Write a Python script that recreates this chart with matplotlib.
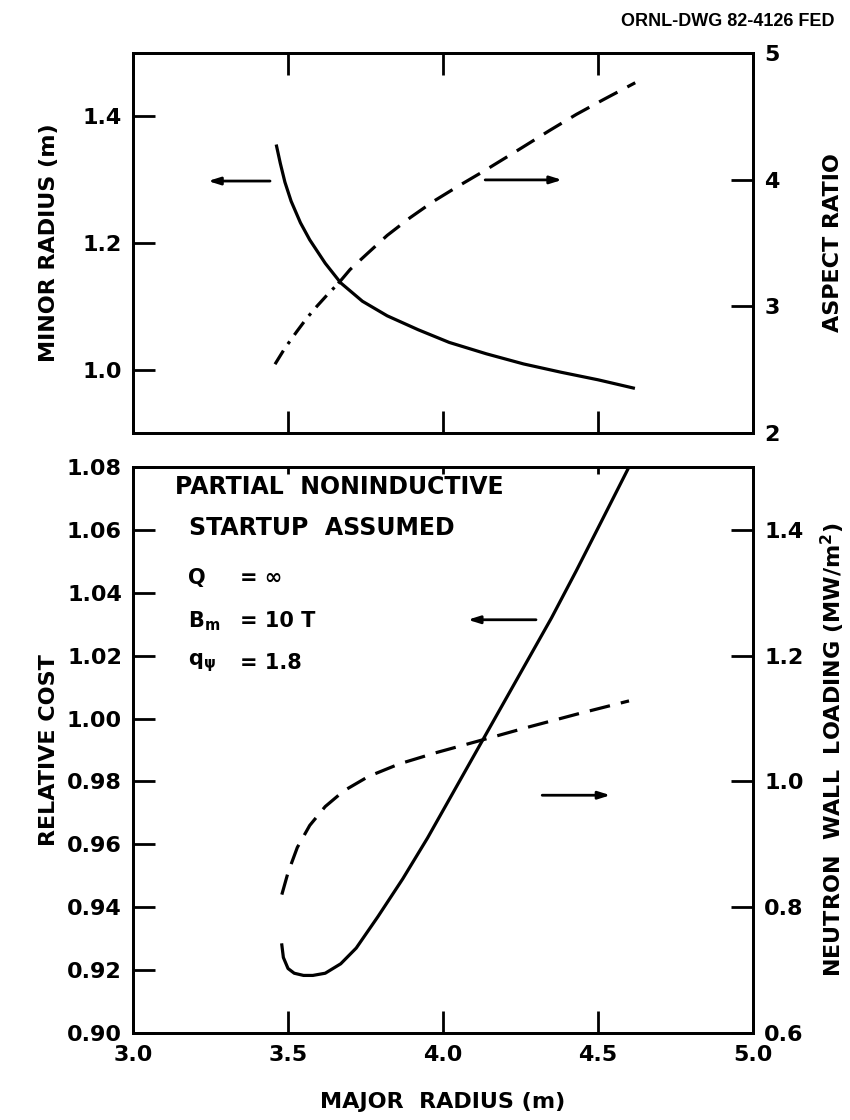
import matplotlib
matplotlib.use("Agg")
from matplotlib import pyplot as plt
from matplotlib import ticker

plt.rcParams['font.family'] = ['DejaVu Sans']
plt.rcParams['font.weight'] = 'bold'
plt.rcParams['axes.labelweight'] = 'bold'
plt.rcParams['mathtext.default'] = 'regular'

# upper panel: minor radius (left axis) and aspect ratio (right axis)
minor_R = [3.463, 3.475, 3.49, 3.51, 3.54, 3.57, 3.62, 3.67, 3.74, 3.82, 3.92,
           4.02, 4.14, 4.26, 4.38, 4.50, 4.614]
minor_a = [1.353, 1.326, 1.296, 1.266, 1.232, 1.205, 1.168, 1.137, 1.108, 1.085,
           1.063, 1.043, 1.025, 1.009, 0.996, 0.984, 0.971]
aspect_R = [3.458, 3.49, 3.528, 3.56, 3.593, 3.63, 3.662, 3.70, 3.753, 3.82, 3.894,
            3.97, 4.05, 4.13, 4.23, 4.345, 4.43, 4.516, 4.62]
aspect_A = [2.543, 2.67, 2.80, 2.905, 3.00, 3.10, 3.18, 3.29, 3.41, 3.56, 3.70,
            3.83, 3.95, 4.065, 4.215, 4.39, 4.515, 4.63, 4.765]
n_dashdot = 7  # first points of the aspect ratio curve drawn dash-dot

# lower panel: relative cost (left axis) and neutron wall loading (right axis)
cost_R = [3.48, 3.485, 3.50, 3.52, 3.55, 3.58, 3.62, 3.67, 3.72, 3.79, 3.87, 3.95,
          4.03, 4.11, 4.19, 4.27, 4.35, 4.43, 4.51, 4.60]
cost = [0.928, 0.924, 0.9205, 0.919, 0.9183, 0.9183, 0.919, 0.922, 0.927, 0.937,
        0.949, 0.962, 0.976, 0.990, 1.004, 1.018, 1.032, 1.047, 1.0625, 1.080]
wall_R = [3.48, 3.50, 3.53, 3.57, 3.62, 3.68, 3.76, 3.86, 3.98, 4.12, 4.28, 4.44, 4.60]
wall_load = [0.82, 0.855, 0.895, 0.93, 0.96, 0.985, 1.008, 1.028, 1.046, 1.065, 1.087,
             1.108, 1.128]

R_ticks = [3.0, 3.5, 4.0, 4.5, 5.0]
minor_ticks = [1.0, 1.2, 1.4]
aspect_ticks = [2, 3, 4, 5]
cost_ticks = [0.90, 0.92, 0.94, 0.96, 0.98, 1.00, 1.02, 1.04, 1.06, 1.08]
wall_ticks = [0.6, 0.8, 1.0, 1.2, 1.4]

LW = 2.3
DASH = (6.5, 3.5)
FS = 16

fig = plt.figure(figsize=(8.5, 11.2), dpi=100)
ax_top = fig.add_axes([0.1565, 0.6134, 0.7294, 0.3393])
ax_bot = fig.add_axes([0.1565, 0.0777, 0.7294, 0.5054])
ax_top_r = ax_top.twinx()
ax_bot_r = ax_bot.twinx()


def style(ax, side, top_len=16):
    for s in ax.spines.values():
        s.set_linewidth(2)
    ax.tick_params(axis='y', direction='in', length=16, width=2, labelsize=FS,
                   left=(side == 'left'), right=(side == 'right'),
                   labelleft=(side == 'left'), labelright=(side == 'right'), pad=8)
    ax.tick_params(axis='x', direction='in', length=16, width=2, labelsize=FS,
                   top=True, bottom=True, pad=9)
    for t in ax.xaxis.get_major_ticks():
        t.tick2line.set_markersize(top_len)


# upper panel
ax_top.plot(minor_R, minor_a, color='black', lw=LW)
ax_top_r.plot(aspect_R[:n_dashdot], aspect_A[:n_dashdot], color='black', lw=LW,
              dashes=(5, 2.5, 1, 2.5))
ax_top_r.plot(aspect_R[n_dashdot - 1:], aspect_A[n_dashdot - 1:], color='black', lw=LW,
              dashes=DASH)
ax_top.set_xlim(3.0, 5.0)
ax_top.set_ylim(0.9, 1.5)
ax_top_r.set_ylim(2, 5)
ax_top.set_xticks(R_ticks)
ax_top.set_yticks(minor_ticks)
ax_top.yaxis.set_major_formatter(ticker.FormatStrFormatter('%.1f'))
ax_top_r.set_yticks(aspect_ticks)
ax_top.tick_params(labelbottom=False)
style(ax_top, 'left')
style(ax_top_r, 'right')
ax_top_r.tick_params(axis='x', top=False, bottom=False)
ax_top.set_ylabel('MINOR RADIUS (m)', fontsize=FS, va='center')
ax_top.yaxis.set_label_coords(-0.135, 0.5)
ax_top_r.set_ylabel('ASPECT RATIO', fontsize=FS, va='center')
ax_top_r.yaxis.set_label_coords(1.129, 0.5)

arrow = dict(arrowstyle='-|>,head_length=0.7,head_width=0.22', color='black', lw=2,
             shrinkA=0, shrinkB=0)
ax_top.annotate('', xy=(0.121, 0.663), xytext=(0.221, 0.663),
                xycoords='axes fraction', arrowprops=arrow)
ax_top.annotate('', xy=(0.692, 0.666), xytext=(0.568, 0.666),
                xycoords='axes fraction', arrowprops=arrow)

# lower panel
ax_bot.plot(cost_R, cost, color='black', lw=LW)
ax_bot_r.plot(wall_R, wall_load, color='black', lw=LW, dashes=DASH)
ax_bot.set_xlim(3.0, 5.0)
ax_bot.set_ylim(0.90, 1.08)
ax_bot_r.set_ylim(0.6, 1.5)
ax_bot.set_xticks(R_ticks)
ax_bot.set_yticks(cost_ticks)
ax_bot.yaxis.set_major_formatter(ticker.FormatStrFormatter('%.2f'))
ax_bot.xaxis.set_major_formatter(ticker.FormatStrFormatter('%.1f'))
ax_bot_r.set_yticks(wall_ticks)
ax_bot_r.yaxis.set_major_formatter(ticker.FormatStrFormatter('%.1f'))
style(ax_bot, 'left', top_len=5)
style(ax_bot_r, 'right')
ax_bot_r.tick_params(axis='x', top=False, bottom=False)
ax_bot.set_ylabel('RELATIVE COST', fontsize=FS, va='center')
ax_bot.yaxis.set_label_coords(-0.135, 0.5)
ax_bot_r.set_ylabel('NEUTRON  WALL  LOADING (MW/m$^2$)', fontsize=FS, va='center')
ax_bot_r.yaxis.set_label_coords(1.129, 0.5)
ax_bot.set_xlabel('MAJOR  RADIUS (m)', fontsize=FS, va='center')
ax_bot.xaxis.set_label_coords(0.5, -0.122)

ax_bot.annotate('', xy=(0.540, 0.730), xytext=(0.650, 0.730),
                xycoords='axes fraction', arrowprops=arrow)
ax_bot.annotate('', xy=(0.770, 0.42), xytext=(0.660, 0.42),
                xycoords='axes fraction', arrowprops=arrow)

note = dict(transform=ax_bot.transAxes, va='center', ha='left')
ax_bot.text(0.068, 0.964, 'PARTIAL  NONINDUCTIVE', fontsize=17, **note)
ax_bot.text(0.090, 0.892, 'STARTUP  ASSUMED', fontsize=17, **note)
ax_bot.text(0.089, 0.803, 'Q', fontsize=15, **note)
ax_bot.text(0.173, 0.803, '= ∞', fontsize=15, **note)
ax_bot.text(0.089, 0.728, 'B$_m$', fontsize=15, **note)
ax_bot.text(0.173, 0.728, '= 10 T', fontsize=15, **note)
ax_bot.text(0.089, 0.654, 'q$_ψ$', fontsize=15, **note)
ax_bot.text(0.173, 0.654, '= 1.8', fontsize=15, **note)

fig.text(0.982, 0.981, 'ORNL-DWG 82-4126 FED', fontsize=13, ha='right', va='center',
         family=['Liberation Sans Narrow', 'Liberation Sans'])

fig.savefig('out.png', dpi=100)
